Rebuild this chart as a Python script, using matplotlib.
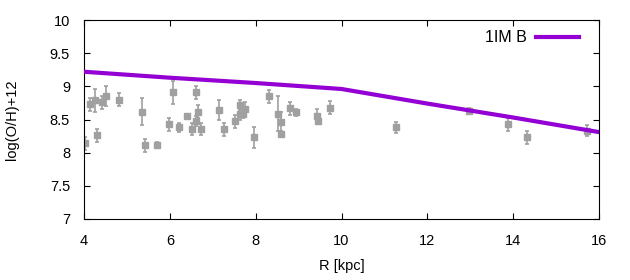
import matplotlib
matplotlib.use('Agg')
import matplotlib.pyplot as plt

# observed abundances (R in kpc, log(O/H)+12, error)
r_obs = [4.02, 4.15, 4.26, 4.30, 4.43, 4.52, 4.82, 5.36, 5.43, 5.69,
         5.99, 6.08, 6.22, 6.41, 6.52, 6.62, 6.62, 6.66, 6.73, 7.15,
         7.27, 7.53, 7.63, 7.64, 7.70, 7.76, 7.95, 8.32, 8.53, 8.59,
         8.60, 8.81, 8.95, 9.44, 9.46, 9.74, 11.28, 12.98, 13.87, 14.33,
         15.71]
oh_obs = [8.14, 8.73, 8.79, 8.26, 8.76, 8.85, 8.80, 8.62, 8.11, 8.12,
          8.43, 8.91, 8.38, 8.55, 8.35, 8.91, 8.48, 8.62, 8.35, 8.64,
          8.35, 8.47, 8.58, 8.72, 8.59, 8.66, 8.23, 8.85, 8.59, 8.46,
          8.28, 8.67, 8.61, 8.56, 8.48, 8.68, 8.38, 8.63, 8.43, 8.23,
          8.33]
oh_err = [0.10, 0.10, 0.17, 0.10, 0.10, 0.15, 0.10, 0.20, 0.10, 0.04,
          0.10, 0.17, 0.07, 0.02, 0.09, 0.10, 0.08, 0.10, 0.09, 0.15,
          0.10, 0.10, 0.09, 0.07, 0.07, 0.10, 0.16, 0.10, 0.26, 0.15,
          0.04, 0.10, 0.05, 0.10, 0.02, 0.10, 0.08, 0.05, 0.10, 0.10,
          0.08]

# model gradient
r_model = [4, 6, 8, 10, 12, 14, 16]
oh_model = [9.22, 9.13, 9.05, 8.96, 8.74, 8.53, 8.31]

plt.rcParams['font.family'] = ['Liberation Sans', 'DejaVu Sans']
plt.rcParams['font.size'] = 10.5

fig = plt.figure(figsize=(6.3, 2.8), dpi=100)
ax = fig.add_axes([84/630, 1 - 219/280, 515/630, 199/280])

ax.errorbar(r_obs, oh_obs, yerr=oh_err, fmt='s', color='#a0a0a0',
            ms=4.5, elinewidth=1.2, capsize=1.5, capthick=1.2, zorder=2)
ax.plot(r_model, oh_model, color='#9400d3', lw=3, label='1IM B', zorder=3)

ax.set_xlim(4, 16)
ax.set_ylim(7, 10)
ax.set_xticks([4, 6, 8, 10, 12, 14, 16])
ax.set_yticks([7, 7.5, 8, 8.5, 9, 9.5, 10])
ax.set_yticklabels(['7', '7.5', '8', '8.5', '9', '9.5', '10'])
ax.tick_params(direction='in', top=True, right=True, length=4, width=0.8)
ax.tick_params(axis='y', pad=10)
ax.tick_params(axis='x', pad=11)
ax.set_xlabel('R [kpc]', labelpad=8)
ax.set_ylabel('log(O/H)+12', labelpad=22)

leg = ax.legend(loc='upper right', frameon=False, markerfirst=False,
                handlelength=2.7, handletextpad=0.6, fontsize=11.5,
                bbox_to_anchor=(0.99, 1.02))

fig.savefig('out.png', dpi=100)
